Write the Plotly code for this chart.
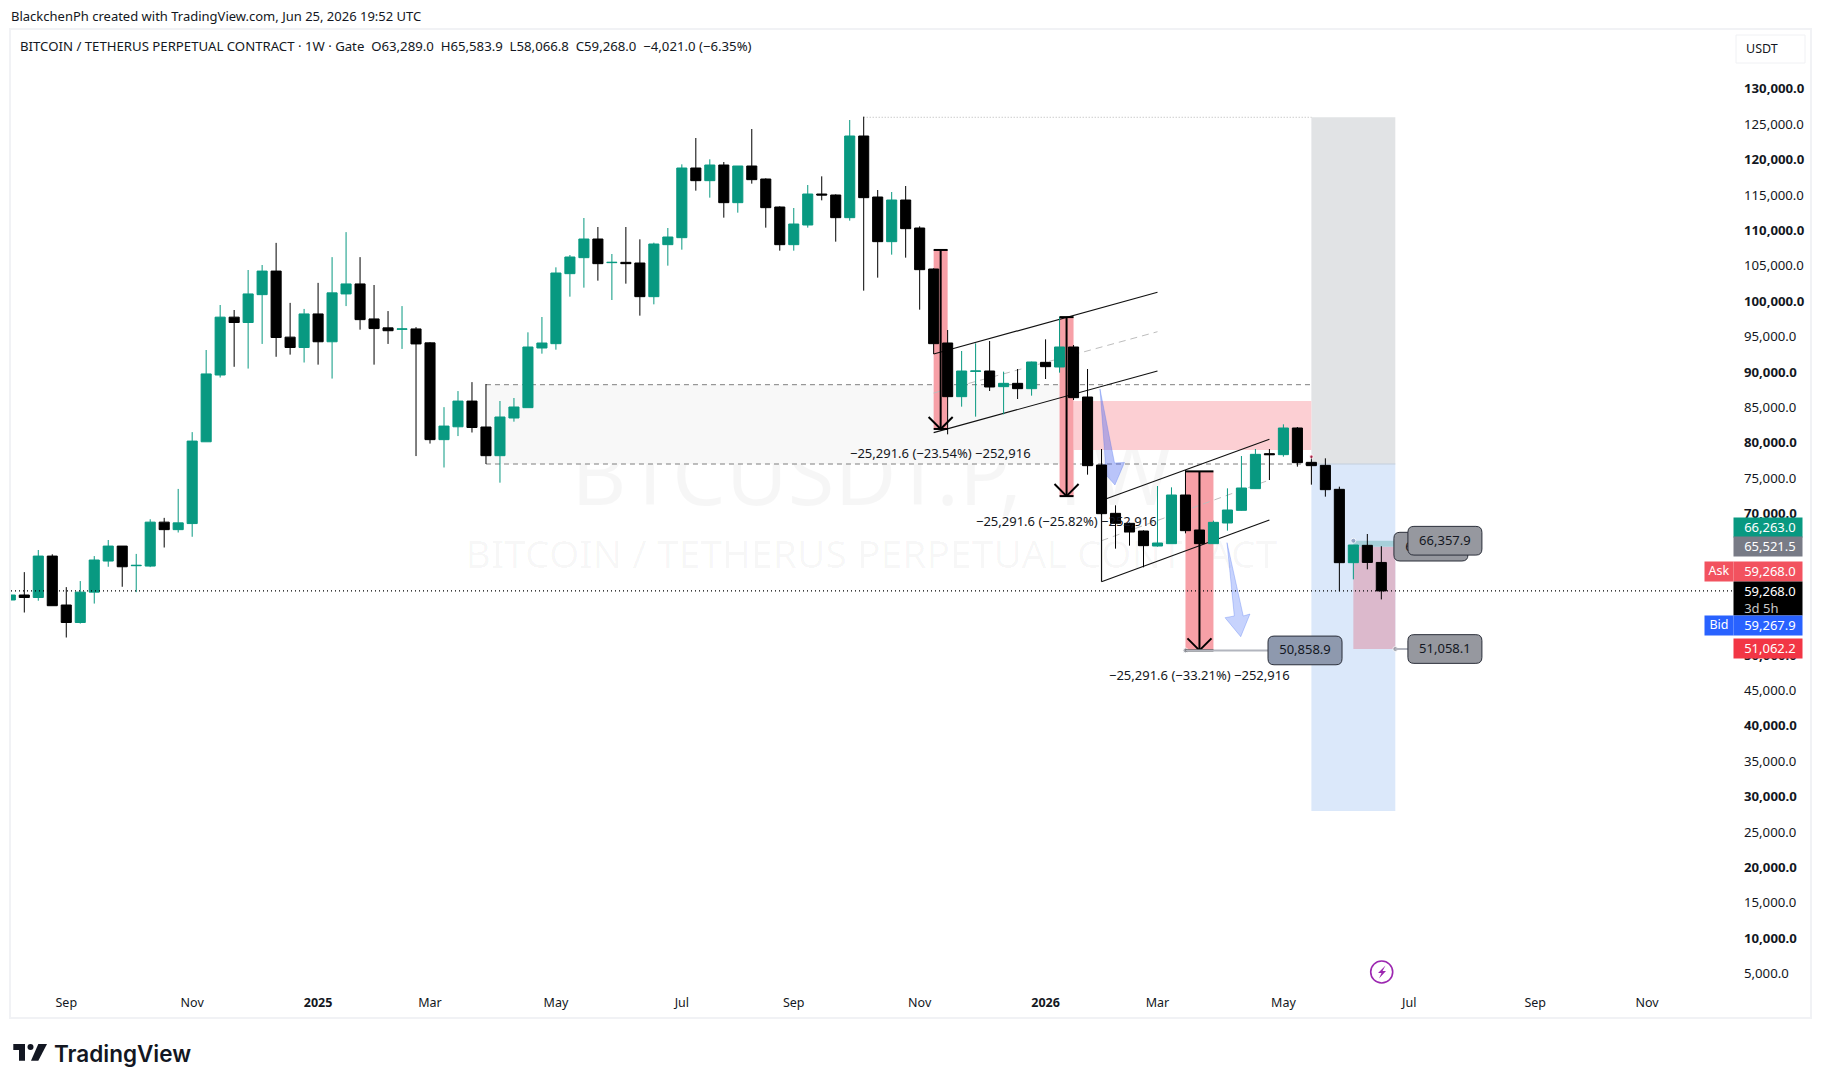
import plotly.graph_objects as go

# Weekly BTC/USDT perpetual candles, oldest first. Bar numbering starts at -1.
opens = [57984, 58690, 58337, 64190, 57278, 54805, 59094, 63485, 65603, 62828, 62778, 68984, 67924, 68782, 80337, 89774, 97948, 97191, 101127, 104458, 95123, 93660, 98402, 94467, 101228, 102641, 97696, 96434, 96233, 96283, 94315, 80640, 82457, 86090, 82427, 78375, 83698, 85159, 93589, 94201, 104091, 106352, 108989, 105646, 105693, 105598, 100842, 108188, 109178, 119021, 117231, 119445, 114123, 119304, 117467, 113511, 108189, 110967, 115348, 115206, 112004, 123543, 114924, 108613, 114500, 110544, 104751, 94296, 86713, 90292, 90339, 88126, 88597, 87843, 91564, 90906, 93731, 86666, 77058, 70229, 68816, 67733, 65614, 65943, 72819, 67874, 65943, 68863, 70653, 73714, 78660, 78519, 82286, 77435, 77011, 73620, 63258, 65708, 63289]
highs = [58690, 61920, 65048, 64442, 59801, 60658, 64190, 66461, 65603, 64495, 69388, 69590, 73677, 81700, 93306, 99664, 98958, 104609, 105315, 108444, 99966, 99109, 102792, 106426, 109958, 106426, 102490, 98806, 99512, 96537, 94417, 85232, 87503, 88765, 88502, 86100, 86524, 95802, 97968, 104986, 106729, 111957, 110685, 106870, 110685, 108942, 108472, 110544, 119539, 123258, 120246, 119869, 119304, 124532, 117561, 113605, 113369, 116619, 117844, 115301, 125803, 126274, 115913, 115630, 116478, 110779, 104845, 96132, 93165, 94248, 94578, 90245, 90622, 91658, 94814, 98017, 94013, 90622, 79319, 71359, 68910, 67827, 74090, 73902, 76352, 67968, 69193, 73761, 78329, 79319, 79319, 82804, 82427, 78330, 77999, 73997, 65755, 67308, 65583.9]
lows = [57984, 56218, 57883, 57177, 52686, 54654, 57479, 62677, 59851, 59094, 62627, 65401, 67520, 66916, 80337, 89420, 90934, 90682, 94164, 92347, 92650, 91540, 91237, 89269, 99512, 96182, 91237, 94164, 93457, 78319, 80086, 76706, 81146, 81650, 77199, 74562, 83180, 85159, 92788, 93353, 100842, 102113, 103103, 100371, 102679, 98157, 99758, 105222, 107483, 115817, 114830, 112004, 112710, 116808, 110591, 107341, 107341, 110591, 114453, 108613, 111580, 101689, 103526, 106776, 106352, 99005, 92741, 81391, 85300, 83887, 87514, 84217, 86383, 86854, 89209, 90104, 86242, 75693, 69994, 65236, 65661, 62600, 65519, 65943, 67403, 65755, 65943, 67781, 70600, 73667, 74939, 78235, 76823, 74280, 72584, 59209, 60904, 62317, 58066.8]
closes = [58690, 58337, 64190, 57177, 54805, 59094, 63635, 65603, 62677, 62879, 68984, 67924, 68883, 80439, 89925, 97948, 97191, 101228, 104458, 95072, 93660, 98402, 94467, 101380, 102641, 97595, 96334, 96031, 96283, 94164, 80640, 82558, 86090, 82356, 78375, 83840, 85253, 93730, 94295, 104185, 106446, 108989, 105504, 105693, 105504, 100842, 108283, 109272, 119021, 117231, 119445, 114123, 119304, 117373, 113417, 108189, 111109, 115348, 115206, 112004, 123543, 114829, 108613, 114500, 110450, 104657, 94202, 86713, 90339, 90339, 88079, 88597, 87843, 91611, 90952, 93731, 86572, 76964, 70182, 68816, 67592, 65661, 66037, 72819, 67781, 65943, 68958, 70700, 73808, 78566, 78519, 82286, 77388, 76964, 73573, 63258, 65755, 63289, 59268]
bars = list(range(-1, 98))

last_close = 59268
# 55k, 60k and 65k fall entirely behind the price tags, so they carry no label
price_ticks = [p for p in range(5000, 135000, 5000) if p not in (55000, 60000, 65000)]
month_bars = [3, 12, 21, 29, 38, 47, 55, 64, 73, 81, 90, 99, 108, 116]
month_names = ["Sep", "Nov", "<b>2025</b>", "Mar", "May", "Jul", "Sep", "Nov", "<b>2026</b>", "Mar", "May", "Jul", "Sep", "Nov"]

# Drawn trade zones, as (first bar, last bar, low price, high price)
stop_zone = (92, 98, 77199, 126186)
target_zone = (92, 98, 28172, 77199)
range_zone = (33, 75, 77199, 88404)
supply_zone = (75, 92, 79177, 86100)
loss_zone = (95, 98, 51058.1, 65521.5)
entry_zone = (95, 98, 65521.5, 66357.9)

# Price-range measurements: (first bar, last bar, start price, end price, caption)
measure_tops = [107441, 97954, 76157]
measure_spans = [(65, 66), (74, 75), (83, 85)]
measure_delta = 25291.6
measure_captions = ["−25,291.6 (−23.54%) −252,916", "−25,291.6 (−25.82%) −252,916", "−25,291.6 (−33.21%) −252,916"]

# Parallel channels: bars and prices for upper, middle and lower edges
channel_a_bars = (65, 81)
channel_a_upper = (92741, 101460)
channel_a_mid = (87229, 95893)
channel_a_lower = (81622, 90339)
channel_b_bars = (77, 89)
channel_b_upper = (72042, 80690)
channel_b_mid = (66363, 74939)
channel_b_lower = (60570, 69287)

# Hand-drawn down arrows
arrow_a_bars = [76.89, 77.93, 78.64, 77.96, 76.75, 77.28]
arrow_a_prices = [87795, 77340, 77411, 74232, 76916, 77199]
arrow_b_bars = [85.97, 87.13, 87.61, 86.95, 85.83, 86.49]
arrow_b_prices = [66080, 55723, 56005, 52798, 55483, 55723]

# Plot geometry in page pixels; the axes are linear in both directions
WIDTH, HEIGHT = 1824, 1087
LEFT, RIGHT, TOP, BOTTOM = 11, 1732, 30, 985
BAR_STEP = 13.99
PRICE_PER_PX = 141.29
x_range = [(LEFT - 24.3) / BAR_STEP, (RIGHT - 24.3) / BAR_STEP]
y_range = [5000 + (975 - BOTTOM) * PRICE_PER_PX, 5000 + (975 - TOP) * PRICE_PER_PX]
# Raises the axis labels slightly so their glyphs centre on the price level
TICK_TEXT_NUDGE = 1.5 * PRICE_PER_PX


def px(x):
    return (x - LEFT) / (RIGHT - LEFT)


def py(y):
    return (BOTTOM - y) / (BOTTOM - TOP)


shapes = []
annotations = []


def zone(z, color, layer="below"):
    shapes.append(dict(type="rect", x0=z[0], x1=z[1], y0=z[2], y1=z[3], fillcolor=color,
                       line_width=0, layer=layer))


def segment(x0, y0, x1, y1, color="#000000", width=1, dash="solid", layer="above"):
    shapes.append(dict(type="line", x0=x0, y0=y0, x1=x1, y1=y1, layer=layer,
                       line=dict(color=color, width=width, dash=dash)))


def polygon(xs, ys, fill, stroke):
    path = "M " + " L ".join(f"{a},{b}" for a, b in zip(xs, ys)) + " Z"
    shapes.append(dict(type="path", path=path, fillcolor=fill, layer="below",
                       line=dict(color=stroke, width=1)))


def callout(bar0, price, text, fill, bar_width=5.29, price_height=4055):
    # Rounded price box centred on its price level
    x0, x1 = bar0, bar0 + bar_width
    y0, y1 = price - price_height / 2, price + price_height / 2
    rx, ry = 0.43, 850
    path = (f"M {x0 + rx},{y0} L {x1 - rx},{y0} Q {x1},{y0} {x1},{y0 + ry} L {x1},{y1 - ry} "
            f"Q {x1},{y1} {x1 - rx},{y1} L {x0 + rx},{y1} Q {x0},{y1} {x0},{y1 - ry} "
            f"L {x0},{y0 + ry} Q {x0},{y0} {x0 + rx},{y0} Z")
    shapes.append(dict(type="path", path=path, fillcolor=fill, layer="above",
                       line=dict(color="#2a2e39", width=1),
                       label=dict(text=text, font=dict(family="Noto Sans", size=13, color="#131722"),
                                  textposition="middle center")))


def page_text(x, y, text, size=13, color="#131722", anchor="left", family="Noto Sans", weight=None):
    font = dict(family=family, size=size, color=color)
    if weight:
        font["weight"] = weight
    annotations.append(dict(xref="paper", yref="paper", x=px(x), y=py(y), text=text, showarrow=False,
                            xanchor=anchor, yanchor="middle", font=font))


def price_tag(price, shift, text, color, height=19, text_color="#ffffff"):
    pad = "\u00a0\u00a0\u00a0"
    label = "<br>".join(pad + line for line in text.split("<br>"))
    annotations.append(dict(xref="paper", yref="y", x=px(1733), y=price, yshift=shift, text=label,
                            showarrow=False, xanchor="left", yanchor="middle", width=68, height=height,
                            align="left", valign="top", bgcolor=color, borderpad=0,
                            font=dict(family="Noto Sans", size=13, color=text_color)))


def side_tag(price, shift, text, color):
    annotations.append(dict(xref="paper", yref="y", x=px(1704), y=price, yshift=shift, text=text,
                            showarrow=False, xanchor="left", yanchor="middle", width=28, height=19,
                            align="center", valign="top", bgcolor=color, borderpad=0,
                            font=dict(family="Noto Sans", size=12.5, color="#ffffff")))


# Watermark sits under everything else
for text, size, cy in (("BTCUSDT.P, 1W", 85, 478), ("BITCOIN / TETHERUS PERPETUAL CONTRACT", 39, 555)):
    shapes.append(dict(type="rect", xref="paper", yref="paper", x0=0, x1=1, y0=py(cy + 20), y1=py(cy - 20),
                       line_width=0, fillcolor="rgba(0,0,0,0)", layer="below",
                       label=dict(text=text, font=dict(family="Noto Sans", size=size, color="rgba(0,0,0,0.035)"),
                                  textposition="middle center")))

zone(range_zone, "#f8f8f8")
zone(stop_zone, "#e1e3e5")
zone(target_zone, "#dbe8fa")
zone(supply_zone, "#fccfd3")
zone(loss_zone, "#dcb9cc")
zone(entry_zone, "#a6cfd9")

segment(33, range_zone[3], 92, range_zone[3], "#7f7f7f", 1, "5px,4px", "below")
segment(33, range_zone[2], 92, range_zone[2], "#7f7f7f", 1, "5px,4px", "below")
segment(92, stop_zone[2], 98, stop_zone[2], "#c3cedc", 1, "solid", "below")
segment(60, stop_zone[3], 92, stop_zone[3], "#b5b5b5", 1, "1px,2px", "below")

for (b0, b1), top in zip(measure_spans, measure_tops):
    zone((b0, b1, top - measure_delta, top), "#f7a0a7")

polygon(arrow_a_bars, arrow_a_prices, "rgba(70,100,240,0.38)", "rgba(70,110,240,0.3)")
polygon(arrow_b_bars, arrow_b_prices, "rgba(70,110,250,0.30)", "rgba(70,110,240,0.3)")

for bars_pair, lo, mid, up in ((channel_a_bars, channel_a_lower, channel_a_mid, channel_a_upper),
                               (channel_b_bars, channel_b_lower, channel_b_mid, channel_b_upper)):
    segment(bars_pair[0], up[0], bars_pair[1], up[1], "#111111", 1.2, "solid", "below")
    segment(bars_pair[0], lo[0], bars_pair[1], lo[1], "#111111", 1.2, "solid", "below")
    segment(bars_pair[0], mid[0], bars_pair[1], mid[1], "#bdbdbd", 1, "7px,5px", "below")
segment(channel_b_bars[0], channel_b_lower[0], channel_b_bars[0], channel_b_upper[0], "#111111", 1.2, "solid", "below")

# Measurement arrows with caps and a V head
HEAD_BARS = 0.86
HEAD_PRICE = 1700
for (b0, b1), top, caption in zip(measure_spans, measure_tops, measure_captions):
    bottom = top - measure_delta
    mid = (b0 + b1) / 2
    segment(mid, top, mid, bottom, width=2)
    segment(b0, top, b1, top, width=2)
    segment(mid - HEAD_BARS, bottom + HEAD_PRICE, mid, bottom, width=2)
    segment(mid + HEAD_BARS, bottom + HEAD_PRICE, mid, bottom, width=2)
    segment(b0, bottom, b1, bottom, width=2)
    annotations.append(dict(x=mid, y=bottom, yshift=-24.5, text=caption, showarrow=False, xanchor="center",
                            yanchor="middle", font=dict(family="Noto Sans", size=13, color="#131722")))

# Price callouts and their leader lines
segment(83, 50858.9, 88.9, 50858.9, "#b2b5be", 2)
segment(98, 51058.1, 98.9, 51058.1, "#b2b5be", 2)
callout(97.9, 65521.5, "65,521.5", "#96989f")
callout(98.9, 66357.9, "66,357.9", "#96989f")
callout(98.9, 51058.1, "51,058.1", "#96989f")
callout(88.9, 50858.9, "50,858.9", "#8e99ae")

# Last price line across the whole plot
segment(x_range[0], last_close, x_range[1], last_close, "#000000", 1.2, "1px,3px")

# Frame, USDT button, bolt badge and the logo mark live in page coordinates
shapes.append(dict(type="rect", xref="paper", yref="paper", x0=px(10), x1=px(1811), y0=py(1018), y1=py(29),
                   line=dict(color="#f1f2f5", width=2), layer="above"))
shapes.append(dict(type="rect", xref="paper", yref="paper", x0=px(1736), x1=px(1805), y0=py(63), y1=py(35),
                   line=dict(color="#f0f1f4", width=1), fillcolor="#ffffff", layer="above"))
shapes.append(dict(type="circle", xref="paper", yref="paper", x0=px(1370.7), x1=px(1392.7), y0=py(983), y1=py(961),
                   line=dict(color="#9c27b0", width=1.6), layer="above"))


def page_poly(points, color):
    path = "M " + " L ".join(f"{px(a)},{py(b)}" for a, b in points) + " Z"
    shapes.append(dict(type="path", xref="paper", yref="paper", path=path, fillcolor=color, line_width=0, layer="above"))


page_poly([(1385.5, 965.5), (1378, 973), (1381.5, 973), (1379, 978.5), (1386, 971), (1382.5, 971)], "#9c27b0")
page_poly([(13.3, 1044), (25, 1044), (25, 1060.7), (19, 1060.7), (19, 1050), (13.3, 1050)], "#131722")
page_poly([(38.3, 1044), (47, 1044), (38.3, 1060.7), (31, 1060.7)], "#131722")
shapes.append(dict(type="circle", xref="paper", yref="paper", x0=px(27.5), x1=px(33.5), y0=py(1050), y1=py(1044),
                   fillcolor="#131722", line_width=0, layer="above"))

page_text(9, 16.5, "BlackchenPh created with TradingView.com, Jun 25, 2026 19:52 UTC", 13)
page_text(18, 46.5, "BITCOIN / TETHERUS PERPETUAL CONTRACT · 1W · Gate\u00a0 O63,289.0\u00a0 H65,583.9\u00a0 L58,066.8\u00a0 C59,268.0\u00a0 −4,021.0 (−6.35%)", 13.2)
page_text(1744, 48.5, "USDT", 12.5)
page_text(52, 1053, "TradingView", 22.5, "#131722", family="Inter", weight=600)

# Price axis tags, stacked where they would overlap
price_tag(66263.0, 14, "66,263.0", "#089981")
price_tag(65521.5, 0, "65,521.5", "#787b86")
price_tag(59268, 19, "59,268.0", "#f2525f")
price_tag(59268, -7.5, "59,268.0<br><span style='color:#c8c8c8'>3d 5h</span>", "#000000", height=33)
price_tag(59267.9, -34.5, "59,267.9", "#2962ff")
price_tag(51062.2, 0, "51,062.2", "#f23645")
side_tag(59268, 19, "Ask", "#f2525f")
side_tag(59267.9, -34.5, "Bid", "#2962ff")

fig = go.Figure()
fig.add_trace(go.Candlestick(
    x=bars, open=opens, high=highs, low=lows, close=closes,
    increasing=dict(line=dict(color="#089981", width=1), fillcolor="#089981"),
    decreasing=dict(line=dict(color="#000000", width=1), fillcolor="#000000"),
    whiskerwidth=0, hoverinfo="skip", showlegend=False,
))
fig.add_trace(go.Scatter(
    x=[83, 98, 95, 92], y=[50858.9, 51058.1, 66357.9, 78230], mode="markers", hoverinfo="skip", showlegend=False,
    marker=dict(size=[5, 5, 5, 4], color=["#868993", "#868993", "#7f8fb4", "#d0305a"]),
))

tick_text = [f"<b>{p:,.1f}</b>" if p % 10000 == 0 else f"{p:,.1f}" for p in price_ticks]

fig.update_layout(
    width=WIDTH, height=HEIGHT, autosize=False,
    margin=dict(l=LEFT, r=WIDTH - RIGHT, t=TOP, b=HEIGHT - BOTTOM, pad=0),
    paper_bgcolor="#ffffff", plot_bgcolor="#ffffff", boxgap=0.28, boxgroupgap=0, hovermode=False, showlegend=False,
    font=dict(family="Noto Sans", size=13, color="#131722"),
    xaxis=dict(range=x_range, tickmode="array", tickvals=month_bars, ticktext=month_names, showgrid=False,
               zeroline=False, showline=False, ticks="", rangeslider=dict(visible=False), ticklabelstandoff=8,
               tickfont=dict(family="Noto Sans", size=12.5, color="#131722")),
    yaxis=dict(range=y_range, side="right", tickmode="array", tickvals=[p + TICK_TEXT_NUDGE for p in price_ticks],
               ticktext=tick_text, showgrid=False, zeroline=False, showline=False, ticks="", ticklabelstandoff=11,
               tickfont=dict(family="Noto Sans", size=13.2, color="#131722")),
    shapes=shapes, annotations=annotations,
)

fig.write_html("out.html")
